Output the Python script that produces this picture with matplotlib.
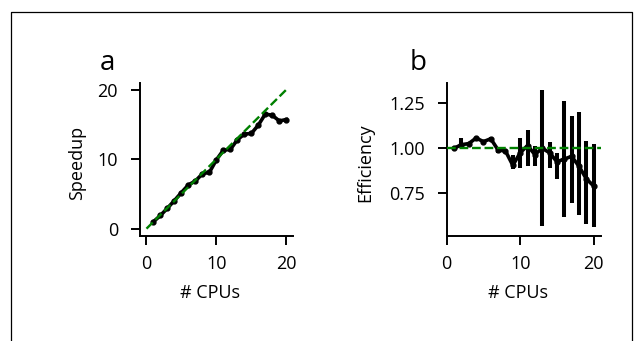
import matplotlib.pyplot as plt
from matplotlib.lines import Line2D

plt.rcParams['font.family'] = ['Open Sans', 'DejaVu Sans']

# data
cpus = list(range(1, 21))
speedup = [1.0, 1.9, 2.95, 4.05, 5.2, 6.3, 6.85, 7.9, 8.1, 9.9,
           11.3, 11.4, 12.8, 13.6, 13.7, 14.9, 16.5, 16.3, 15.5, 15.7]
efficiency = [1.0, 1.02, 1.026, 1.057, 1.037, 1.053, 0.99, 0.985, 0.905, 0.975,
              1.015, 0.965, 1.0, 0.975, 0.925, 0.94, 0.955, 0.9, 0.83, 0.79]
eff_low = [0.995, 1.005, 1.02, 1.05, 1.03, 1.045, 0.975, 0.975, 0.886, 0.891,
           0.9, 0.9, 0.565, 0.891, 0.827, 0.62, 0.698, 0.628, 0.578, 0.56]
eff_high = [1.005, 1.057, 1.035, 1.065, 1.045, 1.06, 1.0, 0.995, 0.965, 1.057,
            1.103, 1.011, 1.325, 1.033, 0.974, 1.264, 1.177, 1.2, 1.039, 1.024]
ideal_x = [0, 20]

W, H = 639, 341
fig = plt.figure(figsize=(W / 100, H / 100), dpi=100)


def axes_px(x0, y0, x1, y1):
    # pixel box -> figure fraction
    return fig.add_axes([x0 / W, 1 - y1 / H, (x1 - x0) / W, (y1 - y0) / H])


def style(ax):
    ax.spines['top'].set_visible(False)
    ax.spines['right'].set_visible(False)
    for s in ('left', 'bottom'):
        ax.spines[s].set_linewidth(1.4)
    ax.tick_params(axis='both', length=6.5, width=1.4, labelsize=13)
    ax.tick_params(axis='y', pad=9)
    ax.tick_params(axis='x', pad=7)


axA = axes_px(139.5, 82.7, 293.3, 236.3)
axB = axes_px(446.7, 82.7, 601, 236.3)

# panel a: speedup
axA.plot(cpus, speedup, color='black', lw=2.6, marker='o', ms=3.5,
         solid_joinstyle='round', zorder=2)
axA.plot(ideal_x, ideal_x, color='green', lw=1.7, ls='--', zorder=3)
axA.set_xlim(-1, 21)
axA.set_ylim(-1.1, 21)
axA.set_xticks([0, 10, 20])
axA.set_yticks([0, 10, 20])
style(axA)
axA.set_xlabel('# CPUs', fontsize=13)
axA.set_ylabel('Speedup', fontsize=13)
axA.xaxis.set_label_coords(0.46, -0.366)
axA.xaxis.label.set_va('center')
axA.yaxis.set_label_coords(-0.404, 0.477)
axA.yaxis.label.set_va('center')

# panel b: efficiency
yerr = [[e - lo for e, lo in zip(efficiency, eff_low)],
        [hi - e for e, hi in zip(efficiency, eff_high)]]
axB.errorbar(cpus, efficiency, yerr=yerr, color='black', lw=2.6, elinewidth=2.9,
             capsize=0, marker='o', ms=3.5, solid_joinstyle='round', zorder=2)
axB.plot([0, 21], [1, 1], color='green', lw=1.7, ls='--', zorder=3)
axB.set_xlim(0, 21)
axB.set_ylim(0.51, 1.365)
axB.set_xticks([0, 10, 20])
axB.set_yticks([0.75, 1.0, 1.25])
axB.set_yticklabels(['0.75', '1.00', '1.25'])
style(axB)
axB.set_xlabel('# CPUs', fontsize=13)
axB.set_ylabel('Efficiency', fontsize=13)
axB.xaxis.set_label_coords(0.459, -0.366)
axB.xaxis.label.set_va('center')
axB.yaxis.set_label_coords(-0.53, 0.477)
axB.yaxis.label.set_va('center')

# panel letters
fig.text(100 / W, 1 - 69.5 / H, 'a', fontsize=20, ha='left', va='baseline')
fig.text(410 / W, 1 - 69.5 / H, 'b', fontsize=20, ha='left', va='baseline')

# frame around the figure (open at the bottom)
fx = [11 / W, 11 / W, 632 / W, 632 / W]
fy = [0, 1 - 12 / H, 1 - 12 / H, 0]
fig.add_artist(Line2D(fx, fy, transform=fig.transFigure, color='black', lw=0.9))

fig.savefig('out.png', dpi=100)
